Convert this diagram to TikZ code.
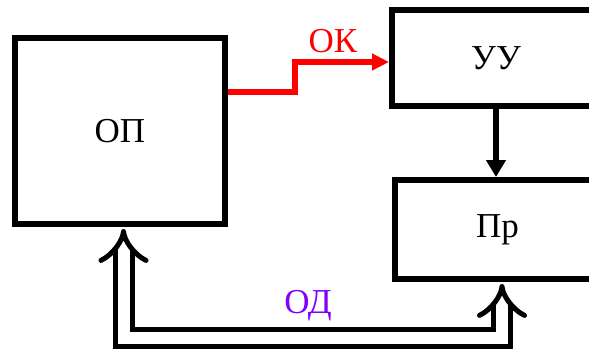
\documentclass[tikz,border=0pt]{standalone}
\usepackage{fontspec}
\setmainfont{Liberation Serif}
\usepackage{xcolor}
\usepackage{tikz}
\usetikzlibrary{arrows.meta}
\definecolor{okred}{RGB}{255, 0, 0}
\definecolor{odviolet}{RGB}{128, 0, 255}

\begin{document}
\begin{tikzpicture}[x=1pt, y=-1pt, every node/.style={font=\fontsize{35}{35}\selectfont}, block/.style={draw, line width=6pt, inner sep=0pt}]
\useasboundingbox (0,0) rectangle (589,351);
% Nodes
\node[block, minimum width=210pt, minimum height=186pt] (op) at (120,131) {ОП};
\node[block, minimum width=208pt, minimum height=96pt] (uu) at (496,58) {УУ};
\node[block, minimum width=205pt, minimum height=99pt] (pr) at (497.5,229.5) {Пр};
\node[text=okred] (ok) at (333,41) {ОК};
\node[text=odviolet] (od) at (308,306) {ОД};

% Bends
\coordinate (bend1) at (295,92);
\coordinate (bend2) at (295,62);
\coordinate (dl) at (123.5,337.5);
\coordinate (dr) at (502,337.5);

% Arrows
\draw[okred, line width=5.5pt, -{Triangle[length=17pt, width=16pt]}] (op.east |- bend1) -- (bend1) -- (bend2) -- (uu.west |- bend2);
\draw[line width=6.5pt, -{Triangle[length=17pt, width=19pt]}] (uu.south) -- (uu.south |- pr.north);
\draw[line width=5pt, double distance=12pt, {Implies}-{Implies}, shorten <=2pt, shorten >=2pt] (op.south -| dl) -- (dl) -- (dr) -- (pr.south -| dr);
\end{tikzpicture}
\end{document}
